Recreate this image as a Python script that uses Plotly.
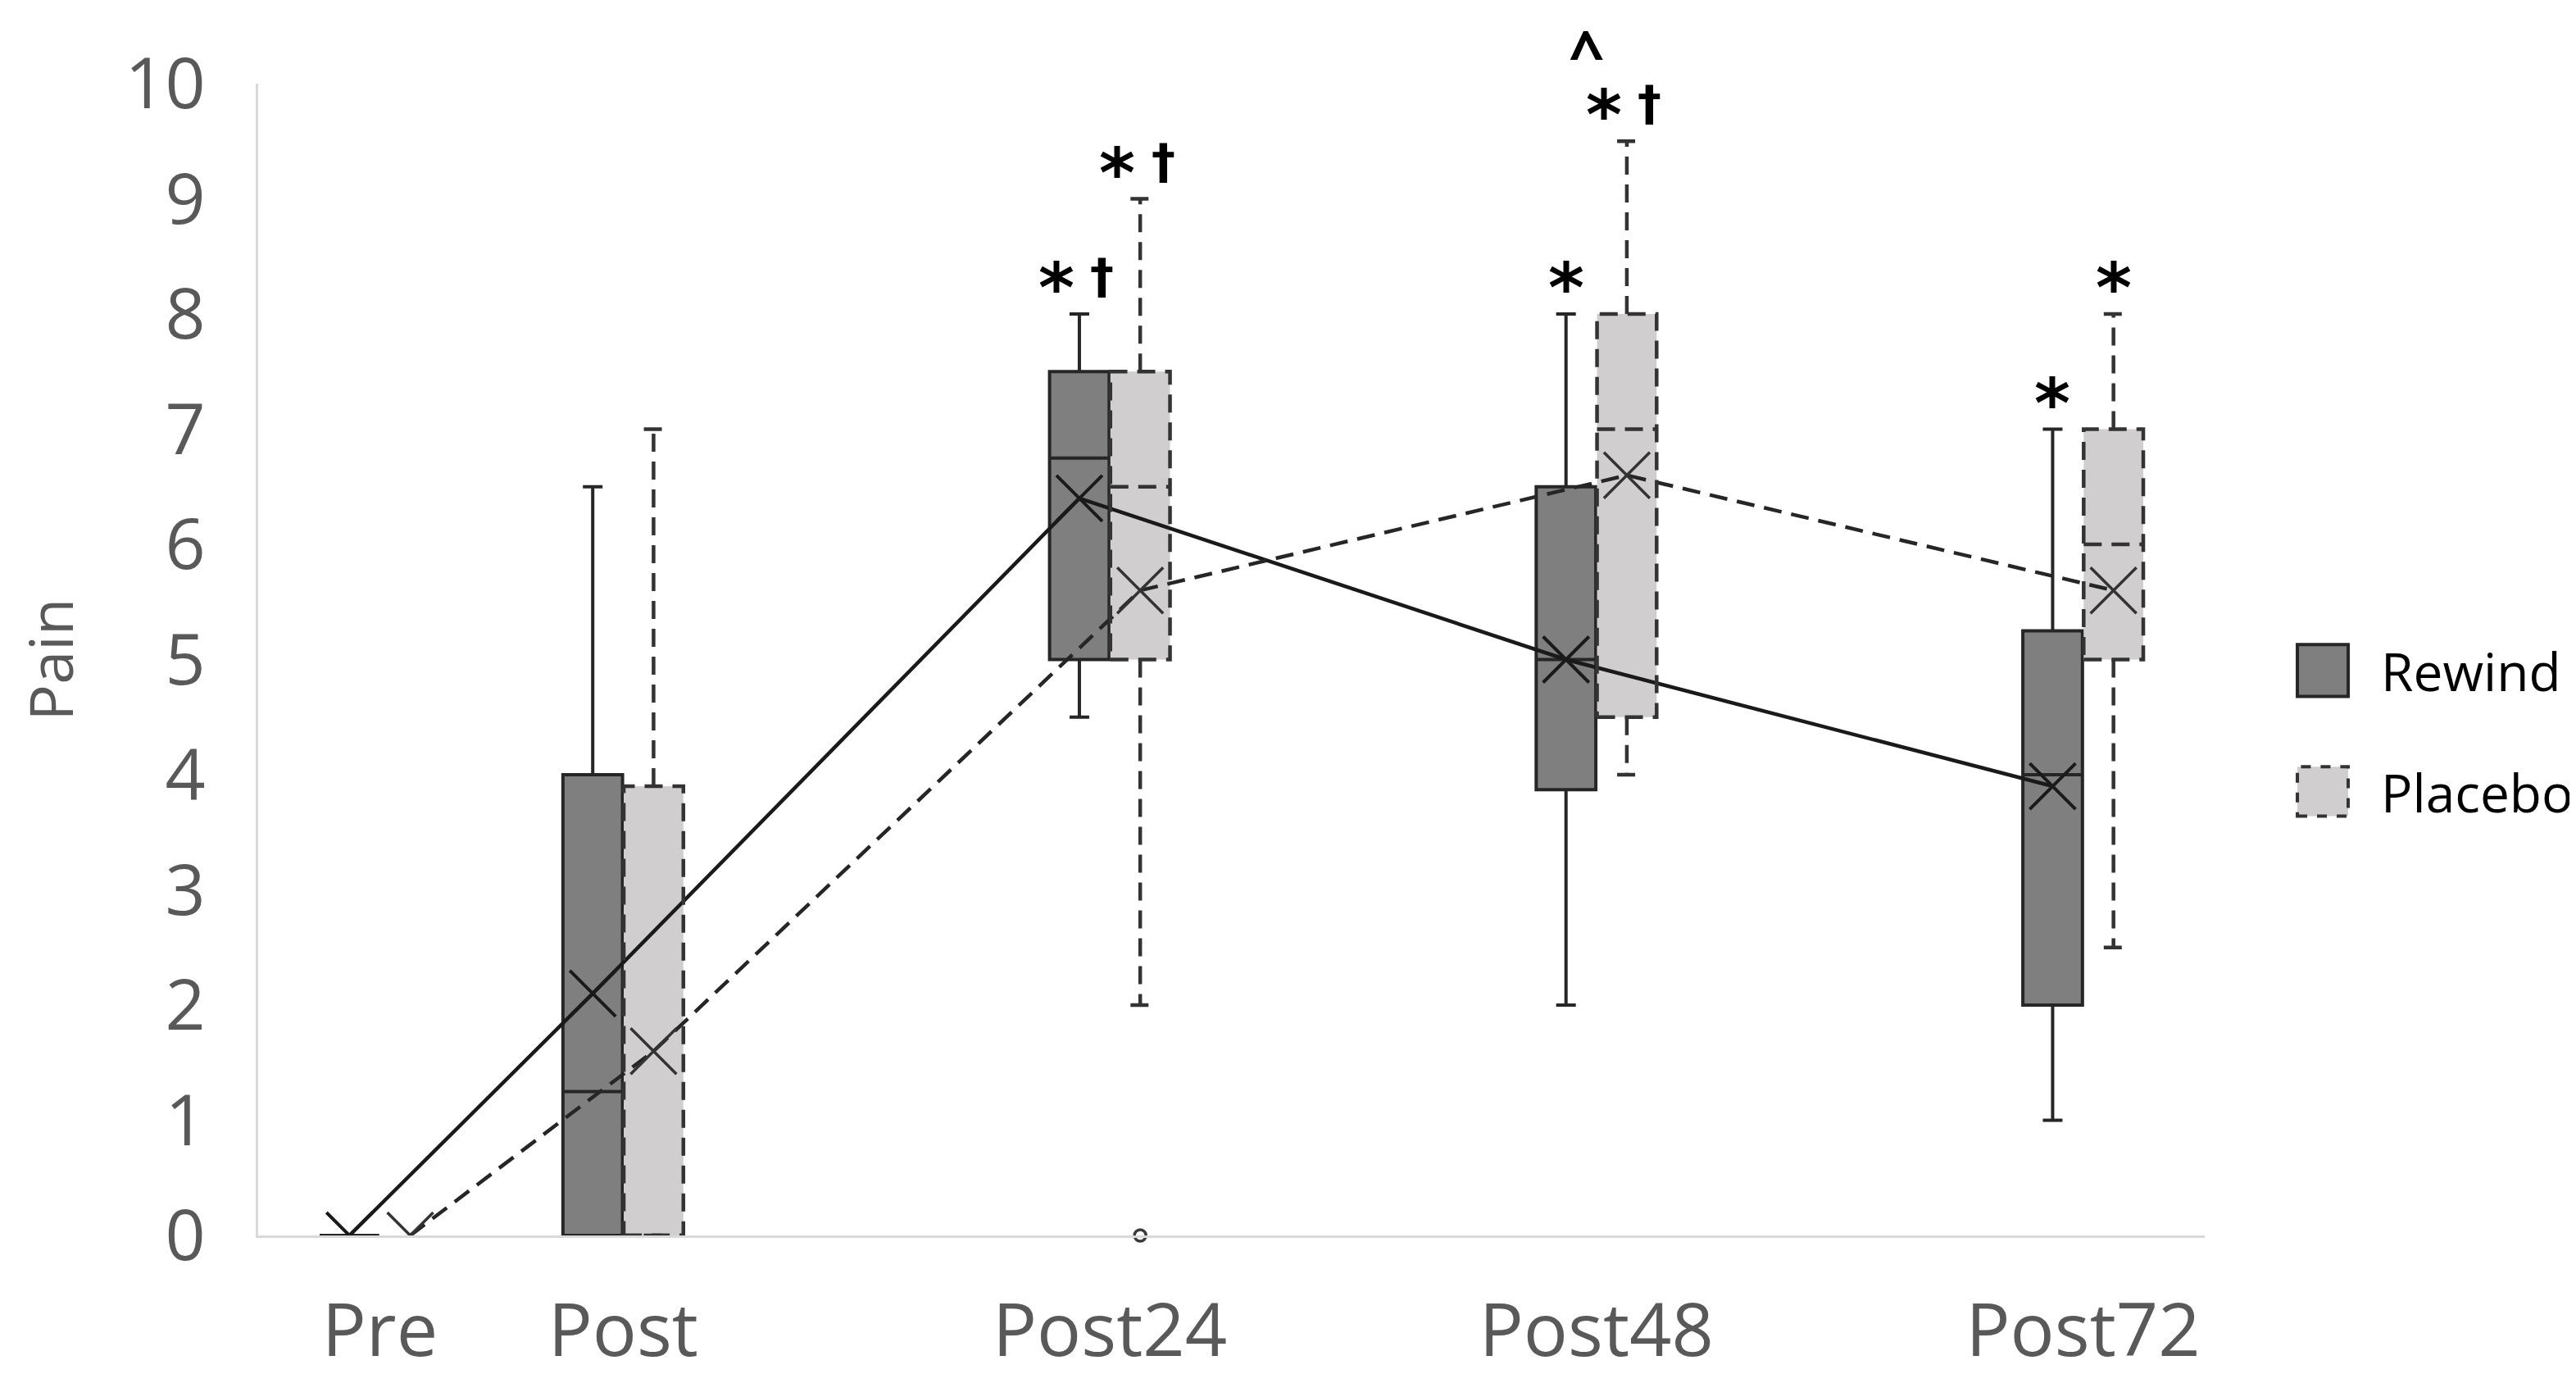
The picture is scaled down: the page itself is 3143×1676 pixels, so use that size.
import plotly.graph_objects as go

# time points and their spacing on the x axis (Excel left gaps between Post and Post24)
categories = ["Pre", "Post", "Post24", "Post48", "Post72"]
cat_pos = [0, 1, 3, 5, 7]

# Rewind group summary (pain 0-10)
rewind_min = [0, 0, 4.5, 2.0, 1.0]
rewind_q1 = [0, 0, 5.0, 3.87, 2.0]
rewind_median = [0, 1.25, 6.75, 5.0, 4.0]
rewind_q3 = [0, 4.0, 7.5, 6.5, 5.25]
rewind_max = [0, 6.5, 8.0, 8.0, 7.0]
rewind_mean = [0, 2.1, 6.4, 5.0, 3.9]

# Placebo group summary
placebo_min = [0, 0, 2.0, 4.0, 2.5]
placebo_q1 = [0, 0, 5.0, 4.5, 5.0]
placebo_median = [0, 0, 6.5, 7.0, 6.0]
placebo_q3 = [0, 3.9, 7.5, 8.0, 7.0]
placebo_max = [0, 7.0, 9.0, 9.5, 8.0]
placebo_mean = [0, 1.6, 5.6, 6.6, 5.6]

placebo_outlier_cat = ["Post24"]
placebo_outlier_val = [0]

# significance marks above the whiskers
rewind_marks = ["", "", "* \u2020", "*", "*"]
placebo_marks = ["", "", "* \u2020", "* \u2020", "*"]
group_marks = {"Post48": "^"}

off = 0.125
bw = 0.245
cap = 0.04

rew_x = [p - off for p in cat_pos]
pla_x = [p + off for p in cat_pos]

REW_FILL = "#7f7f7f"
REW_LINE = "#262626"
PLA_FILL = "#d0cece"
PLA_LINE = "#333333"
DASH = "22px,12px"

fig = go.Figure()

# mean lines go under the boxes
fig.add_trace(go.Scatter(x=rew_x, y=rewind_mean, mode="lines",
                         line=dict(color="#1a1a1a", width=4.5), showlegend=False))
fig.add_trace(go.Scatter(x=pla_x, y=placebo_mean, mode="lines",
                         line=dict(color="#262626", width=4.5, dash=DASH), showlegend=False))

fig.add_trace(go.Box(
    x=rew_x, q1=rewind_q1, median=rewind_median, q3=rewind_q3,
    lowerfence=rewind_min, upperfence=rewind_max,
    width=bw, whiskerwidth=0.33, fillcolor=REW_FILL,
    line=dict(color=REW_LINE, width=4), name="Rewind", showlegend=False,
))
fig.add_trace(go.Box(
    x=pla_x, q1=placebo_q1, median=placebo_median, q3=placebo_q3,
    lowerfence=placebo_min, upperfence=placebo_max,
    width=bw, whiskerwidth=0.33, fillcolor=PLA_FILL,
    line=dict(color="#b0b0b0", width=0), name="Placebo", showlegend=False,
))

# dashed outline for placebo boxes (plotly boxes have no dash option)
ox, oy = [], []
for x, lo, a, m, b, hi in zip(pla_x, placebo_min, placebo_q1, placebo_median, placebo_q3, placebo_max):
    if hi == lo:
        continue
    x0, x1 = x - bw / 2, x + bw / 2
    ox += [x0, x1, x1, x0, x0, None, x0, x1, None]
    oy += [a, a, b, b, a, None, m, m, None]
    ox += [x, x, None, x - cap, x + cap, None, x, x, None, x - cap, x + cap, None]
    oy += [b, hi, None, hi, hi, None, a, lo, None, lo, lo, None]
fig.add_trace(go.Scatter(x=ox, y=oy, mode="lines", connectgaps=False,
                         line=dict(color=PLA_LINE, width=4.5, dash=DASH), showlegend=False))

# mean markers on top
fig.add_trace(go.Scatter(x=rew_x, y=rewind_mean, mode="markers",
                         marker=dict(symbol="x-thin", size=56, line=dict(color="#1a1a1a", width=4)),
                         showlegend=False))
fig.add_trace(go.Scatter(x=pla_x, y=placebo_mean, mode="markers",
                         marker=dict(symbol="x-thin", size=56, line=dict(color="#333333", width=3.5)),
                         showlegend=False))

out_x = [cat_pos[categories.index(c)] + off for c in placebo_outlier_cat]
fig.add_trace(go.Scatter(x=out_x, y=placebo_outlier_val, mode="markers", cliponaxis=False,
                         marker=dict(symbol="circle-open", size=14, color="#3a3a3a",
                                     line=dict(color="#3a3a3a", width=3.5)),
                         showlegend=False))

glyph_style = {
    "*": dict(size=84, shift=32),
    "\u2020": dict(size=58, shift=46),
    "^": dict(size=76, shift=110),
}


def add_marks(x, y, text, xshift=0):
    # each symbol is its own annotation so the asterisk and dagger can differ in size
    toks = text.split()
    for k, tok in enumerate(toks):
        st = glyph_style[tok]
        fam = "Noto Sans" if tok == "^" else "DejaVu Sans"
        fig.add_annotation(x=x, y=y, text="<b>" + tok + "</b>", showarrow=False,
                           yanchor="middle", yshift=st["shift"],
                           xshift=xshift + (k - (len(toks) - 1) / 2) * 56,
                           font=dict(family=fam, size=st["size"], color="black"))


for x, hi, t in zip(rew_x, rewind_max, rewind_marks):
    if t:
        add_marks(x, hi, t)
for x, hi, t in zip(pla_x, placebo_max, placebo_marks):
    if t:
        add_marks(x, hi, t)
for c, t in group_marks.items():
    i = categories.index(c)
    add_marks(cat_pos[i], placebo_max[i], t, xshift=-12)

# legend drawn by hand so the swatches can be as large as the original
fig.add_shape(type="rect", xref="paper", yref="paper", x0=1.0476, x1=1.0737, y0=0.468, y1=0.513,
              fillcolor=REW_FILL, line=dict(color=REW_LINE, width=4))
fig.add_shape(type="rect", xref="paper", yref="paper", x0=1.0476, x1=1.0737, y0=0.364, y1=0.407,
              fillcolor=PLA_FILL, line=dict(color=PLA_LINE, width=4, dash="dash"))
fig.add_annotation(xref="paper", yref="paper", x=1.0897, y=0.490, text="Rewind", showarrow=False,
                   xanchor="left", yanchor="middle", font=dict(family="Open Sans", size=64, color="black"))
fig.add_annotation(xref="paper", yref="paper", x=1.0897, y=0.385, text="Placebo", showarrow=False,
                   xanchor="left", yanchor="middle", font=dict(family="Open Sans", size=64, color="black"))

fig.add_annotation(xref="paper", yref="paper", x=-0.107, y=0.5, text="Pain", textangle=-90,
                   xanchor="center", yanchor="middle",
                   showarrow=False, font=dict(family="Open Sans", size=74, color="#595959"))

fig.update_layout(
    width=3143, height=1676,
    margin=dict(l=307, r=461, t=94, b=177),
    paper_bgcolor="white", plot_bgcolor="white",
    showlegend=False,
    font=dict(family="Open Sans", color="#595959"),
)
fig.update_xaxes(
    range=[-0.5, 7.5], tickvals=cat_pos, ticktext=categories,
    tickfont=dict(size=90, color="#595959"), showgrid=False, zeroline=False,
    showline=True, linecolor="#d9d9d9", linewidth=3, ticks="", ticklabelstandoff=36,
    automargin=False,
)
fig.update_yaxes(
    range=[0, 10], dtick=1, tickfont=dict(size=86, color="#595959"),
    showgrid=False, zeroline=False, showline=True, linecolor="#d9d9d9", linewidth=3,
    ticks="", ticklabelstandoff=44, automargin=False,
)

fig.write_html("out.html")
